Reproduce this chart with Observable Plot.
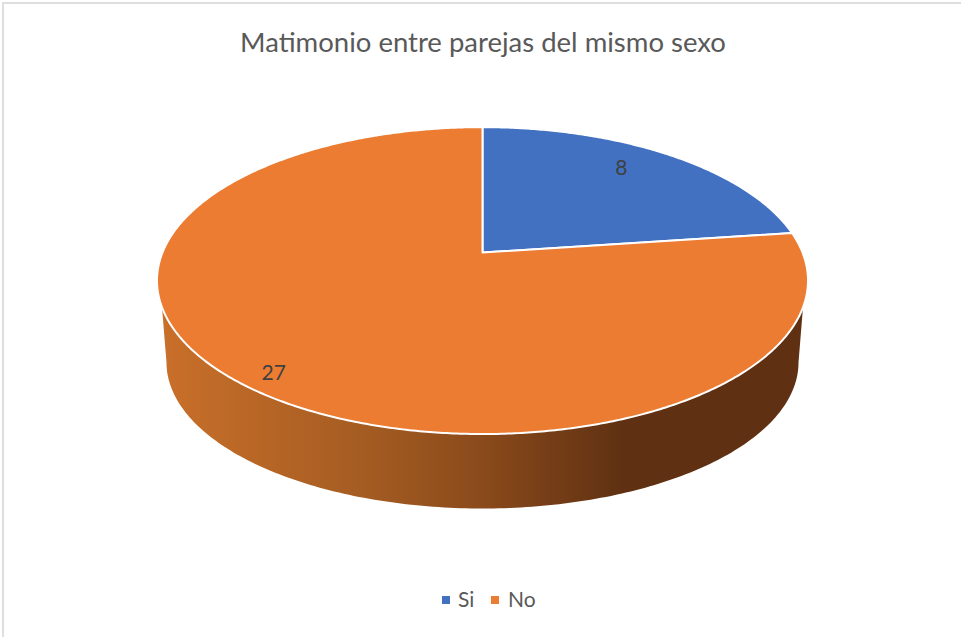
<!DOCTYPE html>
<html lang="es">
<head>
<meta charset="utf-8">
<script src="https://cdn.jsdelivr.net/npm/d3@7"></script>
<script src="https://cdn.jsdelivr.net/npm/@observablehq/plot@0.6"></script>
<style>
html,body{margin:0;padding:0;background:#fff;overflow:hidden}
#chart{position:relative;width:961px;height:637px;font-family:Lato,sans-serif;color:#595959;background:#fff}
#edge{position:absolute;left:2px;top:2px;right:0;bottom:0;border-left:2px solid #dedede;border-top:2px solid #dedede;pointer-events:none}
#title{height:80px;box-sizing:border-box;padding:26px 0 0 5px;text-align:center;font-size:27.5px;line-height:32px;margin:0;font-weight:400;color:#595959}
#plot svg{display:block}
#legend{position:relative;height:67px;font-size:21px;line-height:26px}
#legend span{position:absolute;top:16px;white-space:nowrap}
#legend i{position:absolute;top:26px;width:8px;height:8px}
</style>
</head>
<body>
<div id="chart">
<div id="edge"></div>
<h2 id="title"></h2>
<div id="plot"></div>
<div id="legend"></div>
</div>
<script>
const title = "Matimonio entre parejas del mismo sexo";
const categories = ["Si", "No"];
const values = [8, 27];
const colors = ["#4271c2", "#eb7c31"];

// Tilted disc geometry (pie units: 1 unit = disc scale)
const W = 961, H = 490, scalePx = 320, apexX = 482, apexY = 172;
const persp = 0.183, squash = 0.4635;
const toRad = Math.PI / 180;
function project(deg, r = 1) {
  const u = r * Math.sin(deg * toRad), v = r * Math.cos(deg * toRad);
  const w = 1 + persp * v;
  return {x: u / w, y: squash * v / w};
}
const total = d3.sum(values);
let acc = 0;
const slices = values.map((v, i) => {
  const a0 = acc / total * 360; acc += v;
  const a1 = acc / total * 360;
  const pts = [{x: 0, y: 0}];
  for (let a = a0; a < a1; a += 0.5) pts.push(project(a));
  pts.push(project(a1), {x: 0, y: 0});
  return {name: categories[i], value: v, color: colors[i], pts, mid: (a0 + a1) / 2};
});

// Wall of the disc
const wall = [];
const wallDrop = 110 / scalePx, wallRx = 316 / scalePx, wallRy = 146 / scalePx;
wall.push({x: -320.8 / scalePx, y: -51 / scalePx});
for (let a = 180; a >= 0; a -= 1) {
  wall.push({x: wallRx * Math.cos(a * toRad), y: -wallDrop - wallRy * Math.sin(a * toRad)});
}
wall.push({x: 320.8 / scalePx, y: -51 / scalePx});

const gradient = () => {
  const defs = d3.create("svg:defs");
  const g = defs.append("linearGradient").attr("id", "wallFill")
    .attr("gradientUnits", "userSpaceOnUse")
    .attr("x1", 165).attr("x2", 800).attr("y1", 0).attr("y2", 0);
  [[0, "#c86f2a"], [0.3, "#a65d22"], [0.5, "#8a4a1b"], [0.72, "#5f3112"], [1, "#5f3112"]]
    .forEach(([o, c]) => g.append("stop").attr("offset", o).attr("stop-color", c));
  return defs.node();
};

const labelText = {fontSize: 21, fill: "#404040", fontFamily: "Lato, sans-serif", text: "text", x: "x", y: "y"};
const label8 = [{text: String(values[0]), ...project(slices[0].mid, 0.795)}];
const label27 = [{text: String(values[1]), ...project(slices[1].mid, 0.905)}];

const plot = Plot.plot({
  width: W, height: H,
  margin: 0,
  x: {domain: [-apexX / scalePx, (W - apexX) / scalePx], range: [0, W], axis: null},
  y: {domain: [-(H - apexY) / scalePx, apexY / scalePx], range: [H, 0], axis: null},
  marks: [
    gradient,
    Plot.line(wall, {x: "x", y: "y", fill: "url(#wallFill)", stroke: "none"}),
    ...slices.map(s => Plot.line(s.pts, {x: "x", y: "y", fill: s.color, stroke: "#fff", strokeWidth: 2, curve: "linear"})),
    Plot.text(label8, {...labelText, dx: -12, dy: -4}),
    Plot.text(label27, {...labelText, dx: 9, dy: 5})
  ]
});
document.getElementById("plot").append(plot);
document.getElementById("title").textContent = title;

const legend = document.getElementById("legend");
const legendPos = [{box: 442, text: 458}, {box: 491, text: 508}];
categories.forEach((c, i) => {
  const b = document.createElement("i");
  b.style.left = legendPos[i].box + "px"; b.style.background = colors[i];
  const t = document.createElement("span");
  t.style.left = legendPos[i].text + "px"; t.textContent = c;
  legend.append(b, t);
});
</script>
</body>
</html>
